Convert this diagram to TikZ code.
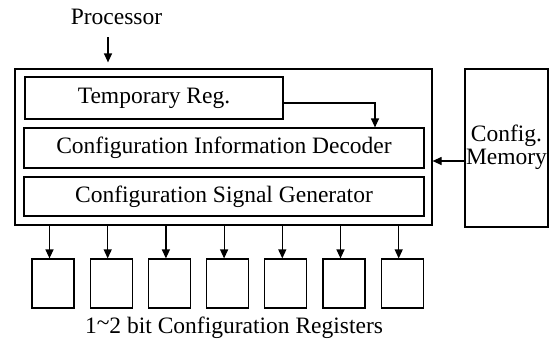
\documentclass[tikz,border=0pt]{standalone}
\usepackage{fontspec}
\setmainfont{Liberation Serif}
\usetikzlibrary{arrows.meta}
\begin{document}
\begin{tikzpicture}[x=1pt,y=-1pt,
  every node/.style={font=\fontsize{23.5}{22}\selectfont},
  blk/.style={draw,line width=1.2pt,inner sep=0pt},
  conn/.style={line width=1.2pt,-{Triangle[length=9pt,width=8pt]}}]
\useasboundingbox (0,0) rectangle (553,343);

% controller frame and its three stages
\node[blk,minimum width=417pt,minimum height=156pt] (outer) at (223.5,147) {};
\node[blk,minimum width=258pt,minimum height=42pt] (temp) at (154,98) {Temporary Reg.};
\node[blk,minimum width=400pt,minimum height=40pt] (dec) at (224,148) {Configuration Information Decoder};
\node[blk,minimum width=400pt,minimum height=39pt] (gen) at (224,196.5) {Configuration Signal Generator};

% configuration memory
\node[blk,minimum width=83pt,minimum height=158pt] (mem) at (506.5,148) {};
\node[inner sep=0pt] (memA) at (506.5,136) {Config.};
\node[inner sep=0pt] (memB) at (506.5,159) {Memory};

% processor input
\node (proc) at (116.5,17) {Processor};
\coordinate (pin) at (108,37);
\draw[conn,shorten >=6pt] (pin) -- (pin |- outer.north);

% internal and memory connections
\draw[conn] ([yshift=-5pt]temp.east) -| ([xshift=151pt]dec.north);
\draw[conn] ([yshift=-13pt]mem.west) -- ([yshift=-13pt]mem.west -| outer.east);

% configuration registers
\foreach \i in {0,...,6} {
  \node[blk,minimum width=42pt,minimum height=49pt] (r\i) at ({53+58.2*\i},283.5) {};
  \draw[conn] ([xshift=-3.5pt]r\i.north |- outer.south) -- ([xshift=-3.5pt]r\i.north);
}
\node (lbl) at (234,328) {1\raisebox{0.12em}{\char"007E}2 bit Configuration Registers};
\end{tikzpicture}
\end{document}
